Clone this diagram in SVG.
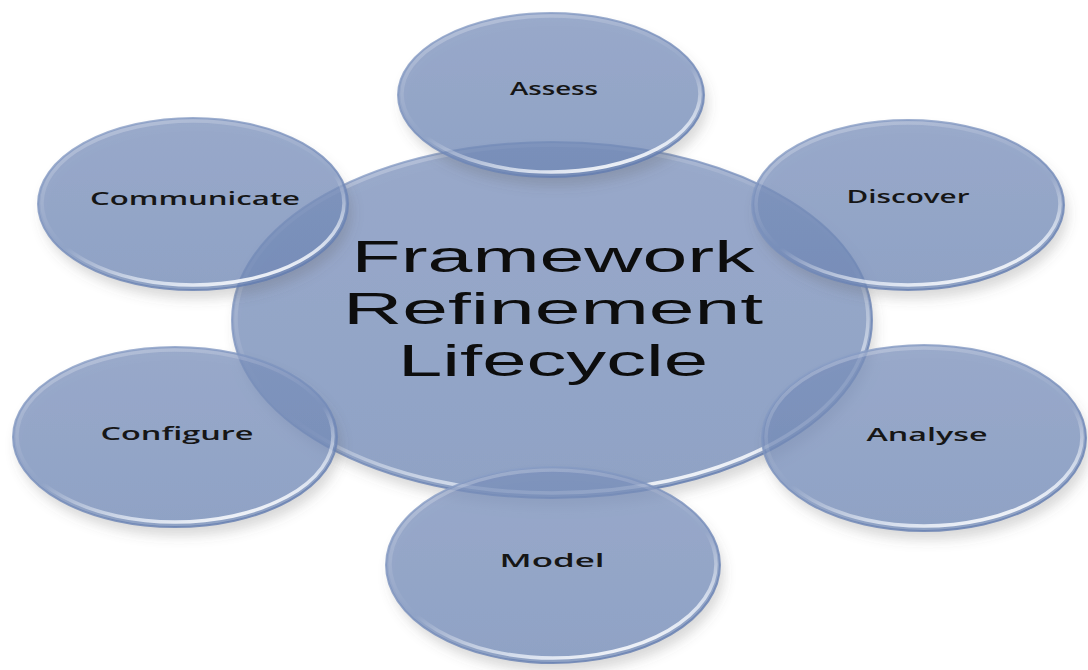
<svg xmlns="http://www.w3.org/2000/svg" width="1088" height="670" viewBox="0 0 1088 670">
  <defs>
    <linearGradient id="fillGrad" x1="0" y1="0" x2="0" y2="1">
      <stop offset="0" stop-color="#7b90bb"/>
      <stop offset="1" stop-color="#6e86b5"/>
    </linearGradient>
    <linearGradient id="rimGrad" x1="0.25" y1="0" x2="0.75" y2="1">
      <stop offset="0" stop-color="#ffffff" stop-opacity="0.25"/>
      <stop offset="0.55" stop-color="#ffffff" stop-opacity="0"/>
      <stop offset="0.85" stop-color="#eef3fb" stop-opacity="0.75"/>
      <stop offset="1" stop-color="#ffffff" stop-opacity="0.95"/>
    </linearGradient>
    <linearGradient id="edgeGrad" x1="0.2" y1="0" x2="0.8" y2="1">
      <stop offset="0" stop-color="#8ea2c8"/>
      <stop offset="1" stop-color="#5f79ad"/>
    </linearGradient>
    <filter id="shadow" x="-10%" y="-10%" width="125%" height="135%">
      <feGaussianBlur in="SourceAlpha" stdDeviation="6" result="b"/>
      <feOffset in="b" dx="4" dy="9" result="o"/>
      <feComposite in="o" in2="SourceAlpha" operator="out" result="outside"/>
      <feFlood flood-color="#5a5a5a" flood-opacity="0.3"/>
      <feComposite in2="outside" operator="in" result="sh"/>
      <feMerge>
        <feMergeNode in="sh"/>
        <feMergeNode in="SourceGraphic"/>
      </feMerge>
    </filter>
  </defs>
  <style>
    .disc { fill: url(#fillGrad); fill-opacity: 0.76; }
    .edge { fill: none; stroke: url(#edgeGrad); stroke-width: 2; stroke-opacity: 0.8; }
    .rim { fill: none; stroke: url(#rimGrad); stroke-width: 3.5; }
    .lbl { font-family: "Open Sans", "Liberation Sans", sans-serif; font-weight: 600; font-size: 18px; fill: #161616; text-anchor: middle; }
    .title { font-family: "Liberation Sans", "Open Sans", sans-serif; font-weight: 400; font-size: 45px; fill: #0d0d0d; text-anchor: middle; }
  </style>
  <rect width="1088" height="670" fill="#ffffff"/>

  <g id="central">
    <g filter="url(#shadow)">
      <ellipse class="disc" cx="552" cy="320" rx="320" ry="178"/>
    </g>
    <ellipse class="edge" cx="552" cy="320" rx="320" ry="178"/>
    <ellipse class="rim" cx="552" cy="319" rx="316" ry="174"/>
    <text class="title" x="553" y="272" textLength="403" lengthAdjust="spacingAndGlyphs">Framework</text>
    <text class="title" x="553" y="324" textLength="420" lengthAdjust="spacingAndGlyphs">Refinement</text>
    <text class="title" x="553" y="376" textLength="310" lengthAdjust="spacingAndGlyphs">Lifecycle</text>
  </g>

  <g id="assess">
    <g filter="url(#shadow)">
      <ellipse class="disc" cx="551" cy="95" rx="153" ry="82"/>
    </g>
    <ellipse class="edge" cx="551" cy="95" rx="153" ry="82"/>
    <ellipse class="rim" cx="551" cy="94" rx="149" ry="78"/>
    <text class="lbl" x="554" y="95" textLength="88" lengthAdjust="spacingAndGlyphs">Assess</text>
  </g>

  <g id="discover">
    <g filter="url(#shadow)">
      <ellipse class="disc" cx="908" cy="205" rx="156" ry="85"/>
    </g>
    <ellipse class="edge" cx="908" cy="205" rx="156" ry="85"/>
    <ellipse class="rim" cx="908" cy="204" rx="152" ry="81"/>
    <text class="lbl" x="908" y="203" textLength="123" lengthAdjust="spacingAndGlyphs">Discover</text>
  </g>

  <g id="analyse">
    <g filter="url(#shadow)">
      <ellipse class="disc" cx="924" cy="438" rx="162" ry="93"/>
    </g>
    <ellipse class="edge" cx="924" cy="438" rx="162" ry="93"/>
    <ellipse class="rim" cx="924" cy="437" rx="158" ry="89"/>
    <text class="lbl" x="927" y="441" textLength="121" lengthAdjust="spacingAndGlyphs">Analyse</text>
  </g>

  <g id="model">
    <g filter="url(#shadow)">
      <ellipse class="disc" cx="553" cy="565" rx="167" ry="98"/>
    </g>
    <ellipse class="edge" cx="553" cy="565" rx="167" ry="98"/>
    <ellipse class="rim" cx="553" cy="564" rx="163" ry="94"/>
    <text class="lbl" x="552" y="567" textLength="105" lengthAdjust="spacingAndGlyphs">Model</text>
  </g>

  <g id="configure">
    <g filter="url(#shadow)">
      <ellipse class="disc" cx="175" cy="437" rx="162" ry="90"/>
    </g>
    <ellipse class="edge" cx="175" cy="437" rx="162" ry="90"/>
    <ellipse class="rim" cx="175" cy="436" rx="158" ry="86"/>
    <text class="lbl" x="177" y="440" textLength="153" lengthAdjust="spacingAndGlyphs">Configure</text>
  </g>

  <g id="communicate">
    <g filter="url(#shadow)">
      <ellipse class="disc" cx="193" cy="204" rx="155" ry="86"/>
    </g>
    <ellipse class="edge" cx="193" cy="204" rx="155" ry="86"/>
    <ellipse class="rim" cx="193" cy="203" rx="151" ry="82"/>
    <text class="lbl" x="195" y="205" textLength="210" lengthAdjust="spacingAndGlyphs">Communicate</text>
  </g>

  <g id="connectors"></g>
</svg>
